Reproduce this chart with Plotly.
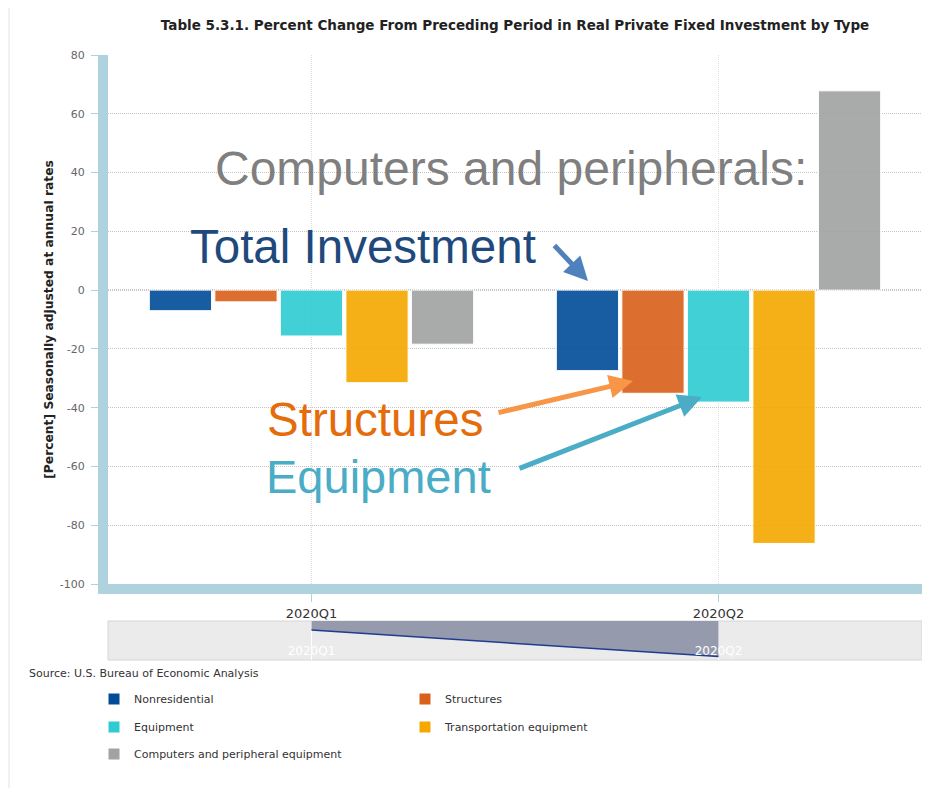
import plotly.graph_objects as go

# ---- data ----
quarters = ["2020Q1", "2020Q2"]
series_names = ["Nonresidential", "Structures", "Equipment",
                "Transportation equipment", "Computers and peripheral equipment"]
nonresidential = [-7.0, -27.4]
structures = [-4.0, -35.1]
equipment = [-15.6, -38.1]
transportation = [-31.5, -86.2]
computers = [-18.4, 67.8]
series_values = [nonresidential, structures, equipment, transportation, computers]
y_ticks = [-100, -80, -60, -40, -20, 0, 20, 40, 60, 80]

colors = ["#004c97", "#d9601a", "#2ecbd3", "#f5a800", "#a0a3a3"]
legend_ids = ["legend", "legend", "legend2", "legend2", "legend3"]

# page body has an 8px margin: figure pixel = screen pixel - 8
OFF = 8
W, H = 922, 780
ML, MR, MT, MB = 100, 8, 47, 128
PW = W - ML - MR
PH = H - MT - MB


def px(X):  # screen x -> paper x
    return (X - OFF - ML) / PW


def py(Y):  # screen y -> paper y
    return (H - MB - (Y - OFF)) / PH


fig = go.Figure()
for name, vals, col, lg in zip(series_names, series_values, colors, legend_ids):
    fig.add_trace(go.Bar(
        x=quarters, y=vals, name=name, legend=lg,
        marker=dict(color=col, opacity=0.9, line=dict(color="white", width=1)),
        xaxis="x", yaxis="y",
    ))

# navigator
fig.add_trace(go.Scatter(
    x=quarters, y=nonresidential, xaxis="x2", yaxis="y2", mode="lines",
    fill="tozeroy", fillcolor="#959aad", line=dict(color="#1f3d8f", width=1.5),
    showlegend=False, hoverinfo="skip",
))

axis_blue = "#aed3de"
annotations = [
    dict(text="Source: U.S. Bureau of Economic Analysis", xref="paper", yref="paper",
         x=px(27), y=py(673), xanchor="left", yanchor="middle", showarrow=False,
         font=dict(size=11, color="#333333")),
    dict(text="Computers and peripherals:", xref="paper", yref="paper",
         x=px(213), y=py(168), xanchor="left", yanchor="middle", showarrow=False,
         font=dict(family="Liberation Sans", size=48, color="#7f7f7f")),
    dict(text="Total Investment", xref="paper", yref="paper",
         x=px(188), y=py(246), xanchor="left", yanchor="middle", showarrow=False,
         font=dict(family="Liberation Sans", size=47.5, color="#1f497d")),
    dict(text="Structures", xref="paper", yref="paper",
         x=px(265), y=py(419), xanchor="left", yanchor="middle", showarrow=False,
         font=dict(family="Liberation Sans", size=47.5, color="#e46c0a")),
    dict(text="Equipment", xref="paper", yref="paper",
         x=px(264), y=py(476), xanchor="left", yanchor="middle", showarrow=False,
         font=dict(family="Liberation Sans", size=47, color="#4bacc6")),
    dict(text="", xref="paper", yref="paper", x=px(588), y=py(281), ax=-35, ay=-37,
         showarrow=True, arrowhead=2, arrowsize=0.95, arrowwidth=5, arrowcolor="#4f81bd"),
    dict(text="", xref="paper", yref="paper", x=px(633), y=py(381), ax=-136, ay=32,
         showarrow=True, arrowhead=2, arrowsize=0.95, arrowwidth=5, arrowcolor="#f79646"),
    dict(text="", xref="paper", yref="paper", x=px(702), y=py(397), ax=-184, ay=72,
         showarrow=True, arrowhead=2, arrowsize=0.95, arrowwidth=5, arrowcolor="#4bacc6"),
]

shapes = [
    # zero line
    dict(type="line", xref="x domain", yref="y", x0=0, x1=1, y0=0, y1=0,
         line=dict(color="#7a7a7a", width=1, dash="1px,1px"), layer="below"),
    # navigator background
    dict(type="rect", xref="x2 domain", yref="y2 domain", x0=0, x1=1, y0=0, y1=1,
         fillcolor="#ebebeb", line=dict(color="#d6d6d6", width=1), layer="below"),
    # thin grey page edge on the left
    dict(type="rect", xref="paper", yref="paper", x0=px(8), x1=px(10), y0=py(788), y1=py(8),
         fillcolor="#f1f1f1", line=dict(width=0), layer="below"),
]

legend_common = dict(orientation="h", xref="paper", yref="paper", xanchor="left",
                     yanchor="middle", entrywidth=266, entrywidthmode="pixels",
                     font=dict(size=11, color="#333333"), bgcolor="rgba(0,0,0,0)",
                     traceorder="normal")

fig.update_layout(
    width=W, height=H,
    margin=dict(l=ML, r=MR, t=MT, b=MB),
    paper_bgcolor="white", plot_bgcolor="white",
    font=dict(family="DejaVu Sans", color="#333333"),
    title=dict(text="Table 5.3.1. Percent Change From Preceding Period in Real Private Fixed Investment by Type",
               x=0.5, xref="paper", xanchor="center", y=1 - (25 - OFF) / H, yanchor="middle",
               font=dict(size=13.5, color="#222222", weight="bold")),
    barmode="group", bargap=0.195, bargroupgap=0.05,
    xaxis=dict(domain=[0, 1], anchor="y", type="category", categoryorder="array",
               categoryarray=quarters, range=[-0.5, 1.5],
               showline=True, linewidth=10, linecolor=axis_blue,
               ticks="outside", ticklen=8, tickcolor=axis_blue, tickwidth=1,
               showgrid=True, gridcolor="#dddddd", griddash="1px,1px", gridwidth=1,
               zeroline=False, tickfont=dict(size=13, color="#333333"), fixedrange=True),
    yaxis=dict(domain=[py(584), 1], anchor="x", range=[-100, 80], tickvals=y_ticks,
               ticktext=[str(v) for v in y_ticks],
               showline=True, linewidth=10, linecolor=axis_blue,
               ticks="outside", ticklen=7, tickcolor=axis_blue, tickwidth=1,
               showgrid=True, gridcolor="#c4c4c4", griddash="1px,1px", gridwidth=1,
               zeroline=False, tickfont=dict(size=11, color="#666666"),
               ticklabelstandoff=4,
               title=dict(text="[Percent] Seasonally adjusted at annual rates",
                          font=dict(size=12.3, color="#222222", weight="bold"), standoff=8),
               fixedrange=True),
    xaxis2=dict(domain=[0, 1], anchor="y2", type="category", categoryorder="array",
                categoryarray=quarters, range=[-0.5, 1.5], showline=False,
                showgrid=True, gridcolor="white", gridwidth=1, ticks="",
                ticklabelposition="inside", tickfont=dict(size=12, color="white"),
                zeroline=False, fixedrange=True),
    yaxis2=dict(domain=[0, py(621)], anchor="x2", range=[-30, 0], visible=False,
                fixedrange=True),
    legend=dict(x=px(94), y=py(699), **legend_common),
    legend2=dict(x=px(94), y=py(727), **legend_common),
    legend3=dict(x=px(94), y=py(754), **legend_common),
    annotations=annotations,
    shapes=shapes,
)

fig.write_html("out.html")
